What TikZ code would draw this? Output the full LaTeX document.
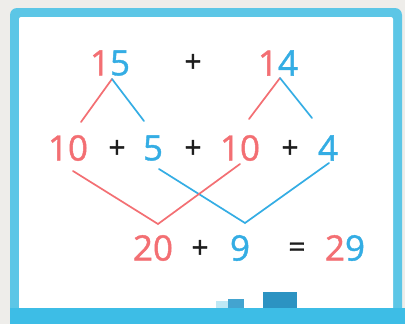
\documentclass[tikz,border=0pt]{standalone}
\usepackage{fontspec}
\setmainfont{Open Sans}
\newfontfamily\boardfont[FakeBold=1.2]{Open Sans}
\usetikzlibrary{positioning,calc}
\definecolor{bggray}{HTML}{EEEDEA}
\definecolor{frameblue}{HTML}{5CC6E6}
\definecolor{trayblue}{HTML}{3DBDE6}
\definecolor{tenred}{HTML}{F36F73}
\definecolor{oneblue}{HTML}{34ADE4}
\definecolor{signblack}{HTML}{1E1E1E}
\tikzset{
  digit/.style={inner sep=0pt, font=\boardfont\fontsize{35}{40}\selectfont},
  sign/.style={inner sep=0pt, text=signblack, font=\boardfont\fontsize{30}{36}\selectfont},
  tens/.style={text=tenred},
  ones/.style={text=oneblue},
  split/.style={line width=1.7pt, line cap=round},
}
\begin{document}
\begin{tikzpicture}[x=1pt,y=-1pt]
  \useasboundingbox (0,0) rectangle (405,324);
  % board
  \fill[bggray] (0,0) rectangle (405,324);
  \fill[frameblue, rounded corners=7pt] (10,8) rectangle (402,318);
  \fill[white, rounded corners=2pt] (19,17) rectangle (393,310);
  \fill[trayblue] (10,308) rectangle (405,324);
  \fill[oneblue!80!gray] (228,299) rectangle (244,308);
  \fill[frameblue!40] (216,301) rectangle (228,308);
  \fill[oneblue!85!black] (263,292) rectangle (297,308);
  % top row
  \node[digit] (n15) at (110,63) {\textcolor{tenred}{1}\textcolor{oneblue}{5}};
  \node[sign] (p0) at (193,63) {+};
  \node[digit] (n14) at (278,63) {\textcolor{tenred}{1}\textcolor{oneblue}{4}};
  % middle row
  \node[digit, tens] (a10) at (68,148) {10};
  \node[sign] (p1) at (117,149) {+};
  \node[digit, ones] (a5) at (153,148) {5};
  \node[sign] (p2) at (193,149) {+};
  \node[digit, tens] (b10) at (240,148) {10};
  \node[sign] (p3) at (290,149) {+};
  \node[digit, ones] (b4) at (328,148) {4};
  % bottom row
  \node[digit, tens] (s20) at (153,248) {20};
  \node[sign] (p4) at (200,249) {+};
  \node[digit, ones] (s9) at (240,248) {9};
  \node[sign] (eq) at (297,250) {=};
  \node[digit] (s29) at (345,248) {\textcolor{tenred}{2}\textcolor{oneblue}{9}};
  % split points
  \coordinate (t15) at (112,79);
  \coordinate (t14) at (280,78);
  \coordinate (ja10) at (81,122);
  \coordinate (ja5) at (144,121);
  \coordinate (jb10) at (249,119);
  \coordinate (jb4) at (312,118);
  \coordinate (ka10) at (73,171);
  \coordinate (ka5) at (159,169);
  \coordinate (kb10) at (240,164);
  \coordinate (kb4) at (329,163);
  \coordinate (m20) at (158,224);
  \coordinate (m9) at (245,223);
  \draw[split, tenred] (t15) -- (ja10);
  \draw[split, oneblue] (t15) -- (ja5);
  \draw[split, tenred] (t14) -- (jb10);
  \draw[split, oneblue] (t14) -- (jb4);
  \draw[split, oneblue] (ka5) -- (m9) -- (kb4);
  \draw[split, tenred] (ka10) -- (m20) -- (kb10);
\end{tikzpicture}
\end{document}
